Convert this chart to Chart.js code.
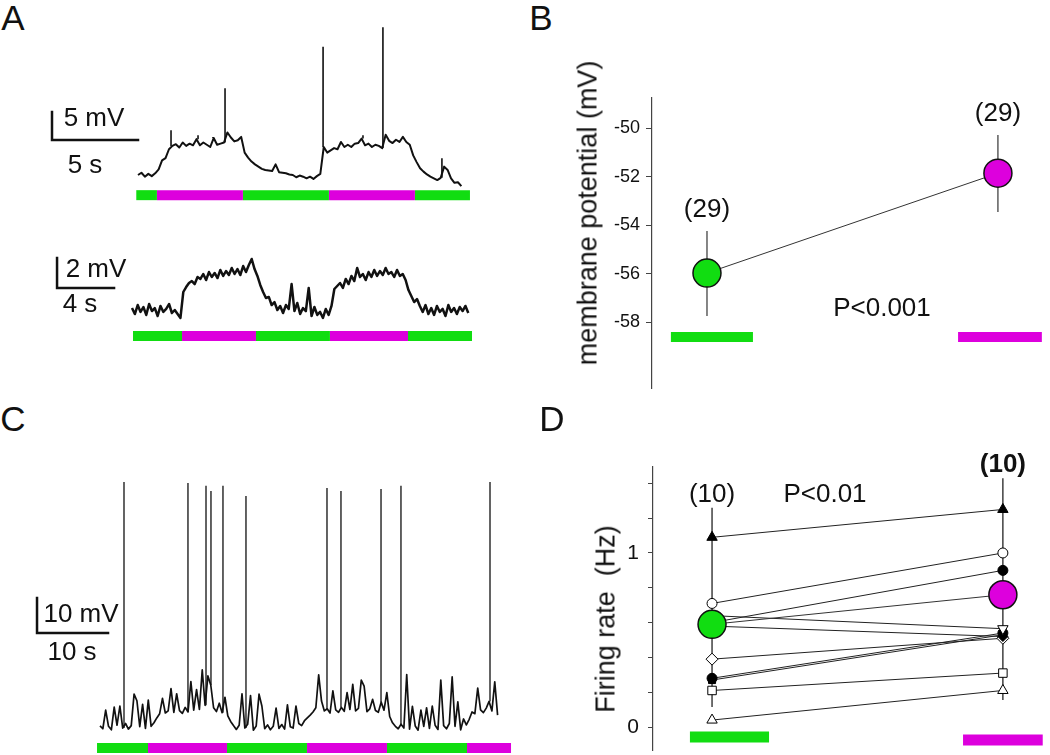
<!DOCTYPE html>
<html>
<head>
<meta charset="utf-8">
<title>Membrane potential and firing rate</title>
<script src="https://cdn.jsdelivr.net/npm/chart.js@4.4.1/dist/chart.umd.min.js"></script>
<style>
  html, body { margin: 0; padding: 0; background: #fff; }
  body {
    width: 1050px; height: 755px; position: relative; overflow: hidden;
    font-family: "Liberation Sans", Arial, sans-serif; color: #111;
  }
  canvas { position: absolute; }
  .t { position: absolute; white-space: nowrap; line-height: 1; transform: translate(-50%, -50%); }
  .rot { transform: translate(-50%, -50%) rotate(-90deg); }
</style>
</head>
<body>
<canvas id="a1"></canvas>
<canvas id="a2"></canvas>
<canvas id="b"></canvas>
<canvas id="c"></canvas>
<canvas id="d"></canvas>

<div class="t" style="left:13px;top:17px;font-size:35px">A</div>
<div class="t" style="left:541px;top:17px;font-size:35px">B</div>
<div class="t" style="left:13px;top:418px;font-size:35px">C</div>
<div class="t" style="left:552px;top:418px;font-size:35px">D</div>

<div class="t" style="left:94px;top:117px;font-size:26px">5 mV</div>
<div class="t" style="left:85px;top:164px;font-size:26px">5 s</div>
<div class="t" style="left:96px;top:268px;font-size:26px">2 mV</div>
<div class="t" style="left:80px;top:303px;font-size:26px">4 s</div>
<div class="t" style="left:81px;top:613px;font-size:26px">10 mV</div>
<div class="t" style="left:72px;top:651px;font-size:26px">10 s</div>

<div class="t rot" style="left:588px;top:213px;font-size:27px">membrane potential (mV)</div>
<div class="t" style="left:882px;top:307px;font-size:26px">P&lt;0.001</div>
<div class="t rot" style="left:606px;top:619px;font-size:27px">Firing rate&nbsp;&nbsp;(Hz)</div>
<div class="t" style="left:825px;top:493px;font-size:26px">P&lt;0.01</div>

<script>
// ---------------------------------------------------------------
// Data
// ---------------------------------------------------------------

// epochs alternate green (control) / magenta (stimulus)
const EPOCH_COLORS = ['#11dd11', '#dd00dd'];

// A, upper trace: membrane potential (mV above rest), one sample every 0.2 s
const A1_DT = 0.2;
const A1_MV = [
  0.0, 0.4, -0.3, 0.2, -0.2, 0.3, 1.0, 2.6, 3.0, 4.6,
  5.2, 5.5, 4.9, 5.8, 5.2, 5.6, 5.3, 6.4, 5.3, 5.8,
  5.4, 5.0, 6.6, 5.4, 5.6, 5.8, 7.6, 6.7, 6.0, 6.2,
  6.8, 4.0, 3.1, 2.4, 1.9, 1.5, 1.1, 0.9, 0.8, 0.7,
  1.9, 0.5, 0.4, 0.3, 0.1, 0.0, -0.4, -0.1, -0.3, -0.6,
  -0.3, -0.7, -0.2, 0.2, 5.0, 4.0, 4.4, 4.8, 4.6, 5.9,
  5.0, 5.4, 5.0, 5.6, 5.7, 6.5, 5.3, 5.6, 5.0, 5.4,
  5.2, 4.8, 7.2, 6.1, 5.7, 6.3, 5.9, 6.8, 5.9, 5.4,
  3.5, 2.3, 1.2, 0.6, 0.1, -0.3, -0.6, -0.9, -0.5, 1.5,
  0.9, -0.6, -1.4, -1.3, -2.0
];
const A1_SPIKE_T = [1.92, 3.49, 4.36, 5.06, 10.76, 13.08, 14.24, 17.67];
const A1_SPIKE_MV = [8.0, 7.1, 6.8, 15.5, 22.9, 7.1, 26.4, 3.0];
const A1_EPOCHS = [-0.1, 1.1, 6.1, 11.1, 16.1, 19.3];

// A, lower trace: one sample every 0.2 s
const A2_DT = 0.2;
const A2_MV = [
  0.13, -0.27, 0.33, -0.13, 0.2, -0.33, 0.4, -0.07, 0.13, -0.4,
  0.27, -0.13, 0.07, 0.4, -0.2, 0, -0.27, -0.53, 1.2, 1.53,
  1.8, 1.93, 1.73, 2.2, 2.07, 2.4, 2.0, 2.53, 2.2, 2.47,
  2.13, 2.67, 2.27, 2.6, 2.33, 2.8, 2.4, 2.73, 2.33, 2.93,
  2.53, 3.0, 3.4, 2.73, 2.27, 1.67, 1.2, 0.8, 0.87, 0.33,
  0.53, 0, 0.27, -0.2, 0.33, 0.07, 1.73, -0.07, 0.47, -0.27,
  0.13, -0.07, 1.47, -0.4, 0.2, -0.33, -0.13, -0.53, 0.07, -0.33,
  0.27, 1.4, 1.6, 1.8, 1.47, 2.07, 1.73, 2.27, 1.93, 2.8,
  2.2, 2.4, 2.0, 2.53, 2.2, 2.67, 2.27, 2.6, 2.33, 2.8,
  2.4, 2.53, 2.2, 2.67, 2.27, 2.4, 2.0, 1.33, 0.93, 0.53,
  0.73, 0.27, -0.13, 0.33, -0.27, 0.13, -0.33, 0.27, -0.13, 0.07,
  -0.4, 0.33, -0.13, 0.13, -0.27, 0.2, -0.07, 0.27, -0.2
];
const A2_EPOCHS = [0.07, 3.51, 8.70, 13.89, 19.37, 23.86];

// B, membrane potential (mV), control vs stimulus
const B_X = [1, 2];
const B_MEAN = [-55.98, -51.86];
const B_ERR_LOW = [-57.75, -53.46];
const B_ERR_HIGH = [-54.25, -50.29];
const B_N = [29, 29];
const B_TICKS = [-58, -56, -54, -52, -50];

// C, spontaneous firing: one sample every 0.4 s, plus action potentials
const C_DT = 0.4;
const C_MV = [
  0.3, -0.5, 4.8, 0.2, -0.8, 5.7, 0.5, 6.0, -0.3, 1.0,
  -0.6, 0.4, 9.4, 7.5, 0.1, 6.5, -0.4, 7.7, 0.2, 1.2,
  2.6, 3.8, 8.2, 4.0, 4.6, 11.0, 4.2, 9.5, 4.7, 3.9,
  5.6, 4.3, 13.0, 4.8, 10.7, 5.0, 16.3, 6.2, 14.6, 12.0,
  5.5, 4.4, 6.8, 4.1, 8.5, 3.2, 1.6, 0.4, -0.7, 0.5,
  9.5, -0.3, 0.8, 9.0, -0.9, 0.3, 9.4, 6.0, -0.5, 0.6,
  -0.8, 0.2, 5.4, -0.4, 0.7, -0.6, 6.3, 0.1, -0.3, 6.0,
  1.0, 0.4, 1.8, 2.6, 3.4, 4.3, 5.5, 14.9, 7.4, 4.6,
  5.2, 4.0, 10.3, 4.9, 4.2, 5.6, 4.5, 9.8, 5.0, 12.2,
  4.6, 5.3, 13.4, 11.7, 4.4, 5.2, 7.9, 4.7, 4.2, 7.1,
  4.8, 9.8, 3.0, 1.2, 0.2, -0.5, 0.8, -0.3, 15.0, -0.6,
  5.9, 0.3, -0.9, 4.8, 0.2, 5.5, -0.4, 6.0, 0.5, -0.7,
  13.4, 0.4, -0.5, 1.0, 14.3, 0.2, 7.2, -0.8, 2.3, 0.6,
  2.2, 4.3, 3.8, 11.1, 4.9, 4.1, 5.4, 7.3, 4.6, 12.9,
  3.4
];
const C_SPIKE_T = [3.38, 12.39, 14.93, 15.63, 17.32, 20.56, 31.97, 33.94, 39.58, 42.39, 54.93];
const C_SPIKE_MV = [70.0, 69.7, 68.9, 67.4, 68.9, 66.0, 68.3, 67.4, 68.0, 68.9, 70.0];
const C_EPOCHS = [-0.42, 6.76, 17.89, 29.15, 40.42, 51.69, 57.89];

// D, firing rate (Hz): group mean +/- spread and the 10 single cells
const D_X = [1, 2];
const D_MEAN = [0.59, 0.76];
const D_ERR_LOW = [0.115, 0.155];
const D_ERR_HIGH = [1.26, 1.43];
const D_N = [10, 10];
const D_CELL_CTRL = [1.09, 0.71, 0.60, 0.64, 0.58, 0.39, 0.28, 0.27, 0.21, 0.04];
const D_CELL_TEST = [1.25, 1.00, 0.90, 0.565, 0.52, 0.51, 0.54, 0.53, 0.31, 0.21];
const D_TICKS = [0, 0.2, 0.4, 0.6, 0.8, 1, 1.2, 1.4];
const D_TICK_LABELS = [0, 1];

// ---------------------------------------------------------------
// Styles / layout
// ---------------------------------------------------------------
const INK = '#111';
const FONT = '"Liberation Sans", Arial, sans-serif';
Chart.defaults.font.family = FONT;
Chart.defaults.color = INK;

// marker for each cell in D
const D_MARKS = [
  { style: 'triangle', fill: true, r: 6 },
  { style: 'circle', fill: false, r: 5 },
  { style: 'circle', fill: true, r: 5 },
  { style: 'triangle', fill: false, r: 6, rot: 180 },
  { style: 'rectRot', fill: true, r: 5 },
  { style: 'rectRot', fill: false, r: 6 },
  { style: 'circle', fill: true, r: 5 },
  { style: 'rect', fill: true, r: 5 },
  { style: 'rect', fill: false, r: 6 },
  { style: 'triangle', fill: false, r: 6 }
];

const BASE_OPTS = {
  responsive: false,
  animation: false,
  events: [],
  plugins: { legend: { display: false }, tooltip: { enabled: false } }
};

function setupCanvas(id, box) {
  const c = document.getElementById(id);
  c.width = box.w;
  c.height = box.h;
  c.style.left = box.x + 'px';
  c.style.top = box.y + 'px';
  c.style.width = box.w + 'px';
  c.style.height = box.h + 'px';
  return c;
}

function lineSet(data, color, width, extra) {
  return Object.assign({
    data: data,
    borderColor: color,
    borderWidth: width,
    pointRadius: 0,
    tension: 0,
    fill: false,
    spanGaps: false,
    borderCapStyle: 'butt',
    borderJoinStyle: 'round'
  }, extra || {});
}

/**
 * A voltage trace with its epoch bar and L-shaped scale bar.
 * The hidden linear scales are set so that `zero` (t=0, v=0) lands on a given pixel.
 */
function traceChart(id, box, zero, pxPerS, pxPerMv, tr) {
  const canvas = setupCanvas(id, box);
  const datasets = [];

  for (let i = 0; i < tr.epochs.length - 1; i++) {
    datasets.push(lineSet(
      [{ x: tr.epochs[i], y: tr.barLevel }, { x: tr.epochs[i + 1], y: tr.barLevel }],
      EPOCH_COLORS[i % 2], 10));
  }

  datasets.push(lineSet(tr.mv.map((v, i) => ({ x: i * tr.dt, y: v })), INK, tr.width));

  if (tr.spikeT) {
    const pts = [];
    tr.spikeT.forEach((t, i) => {
      const base = tr.mv[Math.round(t / tr.dt)];
      pts.push({ x: t, y: base }, { x: t, y: tr.spikeMv[i] }, { x: t, y: null });
    });
    datasets.push(lineSet(pts, INK, tr.spikeWidth));
  }

  const sb = tr.scaleBar;
  datasets.push(lineSet(
    [{ x: sb.t, y: sb.v + sb.mV }, { x: sb.t, y: sb.v }, { x: sb.t + sb.s, y: sb.v }],
    INK, 2.5, { borderJoinStyle: 'miter', borderCapStyle: 'square' }));

  return new Chart(canvas, {
    type: 'line',
    data: { datasets },
    options: Object.assign({}, BASE_OPTS, {
      layout: { padding: 0, autoPadding: false },
      scales: {
        x: { type: 'linear', display: false,
             min: (box.x - zero.x) / pxPerS, max: (box.x + box.w - zero.x) / pxPerS },
        y: { type: 'linear', display: false,
             min: (zero.y - box.y - box.h) / pxPerMv, max: (zero.y - box.y) / pxPerMv }
      }
    })
  });
}

// "(n)" above each error bar
function countLabels(id, xs, tops, ns, gap, weights) {
  return {
    id: id,
    afterDatasetsDraw(chart) {
      const { ctx } = chart;
      const sx = chart.scales.x, sy = chart.scales.y;
      ctx.save();
      ctx.fillStyle = INK;
      ctx.textAlign = 'center';
      ctx.textBaseline = 'middle';
      xs.forEach((x, i) => {
        ctx.font = weights[i] + ' 26px ' + FONT;
        ctx.fillText('(' + ns[i] + ')', sx.getPixelForValue(x), sy.getPixelForValue(tops[i]) - gap);
      });
      ctx.restore();
    }
  };
}

// ---------------------------------------------------------------
// Panel A
// ---------------------------------------------------------------
traceChart('a1', { x: 30, y: 10, w: 460, h: 205 }, { x: 138, y: 175 }, 17.2, 5.6, {
  dt: A1_DT, mv: A1_MV, width: 2,
  spikeT: A1_SPIKE_T, spikeMv: A1_SPIKE_MV, spikeWidth: 1.6,
  epochs: A1_EPOCHS, barLevel: -3.6,
  scaleBar: { t: -5.0, v: 6.25, s: 5, mV: 5 }
});

traceChart('a2', { x: 30, y: 235, w: 460, h: 125 }, { x: 132, y: 310 }, 14.25, 15, {
  dt: A2_DT, mv: A2_MV, width: 2.5,
  epochs: A2_EPOCHS, barLevel: -1.73,
  scaleBar: { t: -5.26, v: 1.47, s: 4, mV: 2 }
});

// ---------------------------------------------------------------
// Panel B
// ---------------------------------------------------------------
const bBars = [[0.876, 1.158], [1.863, 2.151]];
new Chart(setupCanvas('b', { x: 560, y: 68, w: 490, h: 350 }), {
  type: 'line',
  data: {
    datasets: [
      lineSet(B_X.map((x, i) => ({ x: x, y: B_MEAN[i] })), '#333', 1, {
        pointRadius: 14,
        pointBackgroundColor: EPOCH_COLORS,
        pointBorderColor: INK,
        pointBorderWidth: 1.5,
        order: 0
      }),
      ...B_X.map((x, i) => lineSet([{ x: x, y: B_ERR_LOW[i] }, { x: x, y: B_ERR_HIGH[i] }], '#444', 1.3, { order: 1 })),
      ...bBars.map((r, i) => lineSet([{ x: r[0], y: -58.62 }, { x: r[1], y: -58.62 }], EPOCH_COLORS[i], 10, { order: 2 }))
    ]
  },
  options: Object.assign({}, BASE_OPTS, {
    layout: { padding: { top: 30, bottom: 30, left: 0, right: 0 }, autoPadding: false },
    scales: {
      x: { type: 'linear', display: false, min: 0.811, max: 2.179 },
      y: {
        type: 'linear', min: -60.72, max: -48.76,
        afterBuildTicks: s => { s.ticks = B_TICKS.map(v => ({ value: v })); },
        afterFit: s => { s.width = 92; },
        grid: { drawOnChartArea: false, drawTicks: true, tickLength: 6, color: '#444', lineWidth: 1 },
        border: { display: true, color: '#444', width: 1.2 },
        ticks: { color: INK, font: { size: 18 }, padding: 6 }
      }
    }
  }),
  plugins: [countLabels('bN', B_X, B_ERR_HIGH, B_N, 21, ['normal', 'normal'])]
});

// ---------------------------------------------------------------
// Panel C
// ---------------------------------------------------------------
traceChart('c', { x: 20, y: 465, w: 500, h: 290 }, { x: 100, y: 727 }, 7.1, 3.5, {
  dt: C_DT, mv: C_MV, width: 1.7,
  spikeT: C_SPIKE_T, spikeMv: C_SPIKE_MV, spikeWidth: 1.3,
  epochs: C_EPOCHS, barLevel: -6.0,
  scaleBar: { t: -8.87, v: 26.86, s: 10, mV: 10 }
});

// ---------------------------------------------------------------
// Panel D
// ---------------------------------------------------------------
const dBars = [[0.924, 1.196, -0.057], [1.863, 2.137, -0.075]];
new Chart(setupCanvas('d', { x: 560, y: 437, w: 490, h: 343 }), {
  type: 'line',
  data: {
    datasets: [
      lineSet(D_X.map((x, i) => ({ x: x, y: D_MEAN[i] })), '#333', 1, {
        pointRadius: 14,
        pointBackgroundColor: EPOCH_COLORS,
        pointBorderColor: INK,
        pointBorderWidth: 1.5,
        order: 0
      }),
      ...D_CELL_CTRL.map((c, i) => lineSet([{ x: 1, y: c }, { x: 2, y: D_CELL_TEST[i] }], '#222', 1, {
        pointStyle: D_MARKS[i].style,
        pointRadius: D_MARKS[i].r,
        pointRotation: D_MARKS[i].rot || 0,
        pointBackgroundColor: D_MARKS[i].fill ? '#000' : '#fff',
        pointBorderColor: '#000',
        pointBorderWidth: 1,
        order: 2
      })),
      ...D_X.map((x, i) => lineSet([{ x: x, y: D_ERR_LOW[i] }, { x: x, y: D_ERR_HIGH[i] }], '#222', 1.3, { order: 3 })),
      ...dBars.map((r, i) => lineSet([{ x: r[0], y: r[2] }, { x: r[1], y: r[2] }], EPOCH_COLORS[i], 11, { order: 4 }))
    ]
  },
  options: Object.assign({}, BASE_OPTS, {
    layout: { padding: { top: 30, bottom: 30, left: 0, right: 0 }, autoPadding: false },
    scales: {
      x: { type: 'linear', display: false, min: 0.797, max: 2.162 },
      y: {
        type: 'linear', min: -0.132, max: 1.494,
        afterBuildTicks: s => { s.ticks = D_TICKS.map(v => ({ value: v })); },
        afterFit: s => { s.width = 93; },
        grid: { drawOnChartArea: false, drawTicks: true, tickLength: 5, color: '#444', lineWidth: 1 },
        border: { display: true, color: '#444', width: 1.2 },
        ticks: {
          color: INK, font: { size: 21 }, padding: 9,
          callback: v => (D_TICK_LABELS.includes(v) ? String(v) : '')
        }
      }
    }
  }),
  plugins: [countLabels('dN', D_X, D_ERR_HIGH, D_N, 13, ['normal', 'bold'])]
});
</script>
</body>
</html>
